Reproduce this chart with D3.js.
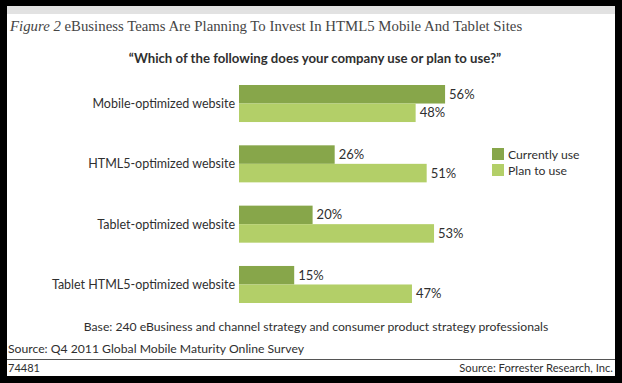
<!DOCTYPE html>
<html lang="en">
<head>
<meta charset="UTF-8">
<title>eBusiness Teams HTML5</title>
<style>
    body { margin: 0; background: #000; }
    svg { display: block; }
    .sans { font-family: Lato, "Open Sans", sans-serif; fill: #2f2f2f; }
    .serif { font-family: "Liberation Serif", "DejaVu Serif", serif; fill: #454545; }
</style>
</head>
<body>
<script src="https://d3js.org/d3.v7.min.js"></script>
<script>
    const categories = ['Mobile-optimized website', 'HTML5-optimized website', 'Tablet-optimized website', 'Tablet HTML5-optimized website'];
    const seriesNames = ['Currently use', 'Plan to use'];
    const currentUse = [56, 26, 20, 15];
    const planToUse = [48, 51, 53, 47];
    const colors = ['#87a64a', '#b3cf68'];

    const width = 622, height = 383;

    const svg = d3.select('body').append('svg').attr('width', width).attr('height', height);

    // panel
    svg.append('rect').attr('x', 7).attr('y', 6).attr('width', 608).attr('height', 370).attr('fill', '#fff');
    svg.append('rect').attr('x', 7).attr('y', 6).attr('width', 608).attr('height', 8).attr('fill', '#e2e2e2');

    const title = svg.append('text').attr('class', 'serif').attr('x', 10).attr('y', 31).attr('font-size', 14.8);
    title.append('tspan').attr('font-style', 'italic').text('Figure 2');
    title.append('tspan').text(' eBusiness Teams Are Planning To Invest In HTML5 Mobile And Tablet Sites');

    svg.append('text').attr('class', 'sans').attr('x', 315).attr('y', 63).attr('text-anchor', 'middle')
        .attr('font-size', 13.2).attr('font-weight', 'bold')
        .text('\u201CWhich of the following does your company use or plan to use?\u201D');

    const rows = categories.map((c, i) => ({ cat: c, values: [currentUse[i], planToUse[i]] }));

    const x = d3.scaleLinear().domain([0, 100]).range([239, 607]);
    const y = d3.scaleBand().domain(categories).range([85, 303]).paddingInner(0.386);
    const ySub = d3.scaleBand().domain(seriesNames).range([0, y.bandwidth()]);

    const g = svg.selectAll('g.row').data(rows).enter().append('g')
        .attr('class', 'row')
        .attr('transform', d => `translate(0,${y(d.cat)})`);

    g.append('text').attr('class', 'sans').attr('x', 235).attr('y', y.bandwidth() / 2 + 4.5)
        .attr('text-anchor', 'end').attr('font-size', 12.5).text(d => d.cat);

    g.selectAll('rect').data(d => d.values.map((v, k) => ({ v, k }))).enter().append('rect')
        .attr('x', x(0))
        .attr('y', d => ySub(seriesNames[d.k]))
        .attr('width', d => x(d.v) - x(0))
        .attr('height', ySub.bandwidth())
        .attr('fill', d => colors[d.k]);

    g.selectAll('text.val').data(d => d.values.map((v, k) => ({ v, k }))).enter().append('text')
        .attr('class', 'sans val')
        .attr('x', d => x(d.v) + 4)
        .attr('y', d => ySub(seriesNames[d.k]) + ySub.bandwidth() / 2 + 4.5)
        .attr('font-size', 13)
        .text(d => d.v + '%');

    // legend
    const lg = svg.selectAll('g.legend').data(seriesNames).enter().append('g')
        .attr('class', 'legend')
        .attr('transform', (d, i) => `translate(492,${148 + i * 16})`);
    lg.append('rect').attr('width', 12).attr('height', 12).attr('fill', (d, i) => colors[i]);
    lg.append('text').attr('class', 'sans').attr('x', 16).attr('y', 10.5).attr('font-size', 12.2).text(d => d);

    svg.append('text').attr('class', 'sans').attr('x', 316).attr('y', 331).attr('text-anchor', 'middle')
        .attr('font-size', 12.2)
        .text('Base: 240 eBusiness and channel strategy and consumer product strategy professionals');

    svg.append('text').attr('class', 'sans').attr('x', 8).attr('y', 353).attr('font-size', 12.2)
        .text('Source: Q4 2011 Global Mobile Maturity Online Survey');

    svg.append('line').attr('x1', 7).attr('x2', 615).attr('y1', 359.5).attr('y2', 359.5)
        .attr('stroke', '#555').attr('stroke-width', 1);

    svg.append('text').attr('class', 'sans').attr('x', 8).attr('y', 372).attr('font-size', 11).text('74481');
    svg.append('text').attr('class', 'sans').attr('x', 613).attr('y', 372).attr('text-anchor', 'end')
        .attr('font-size', 11.2).text('Source: Forrester Research, Inc.');
</script>
</body>
</html>
